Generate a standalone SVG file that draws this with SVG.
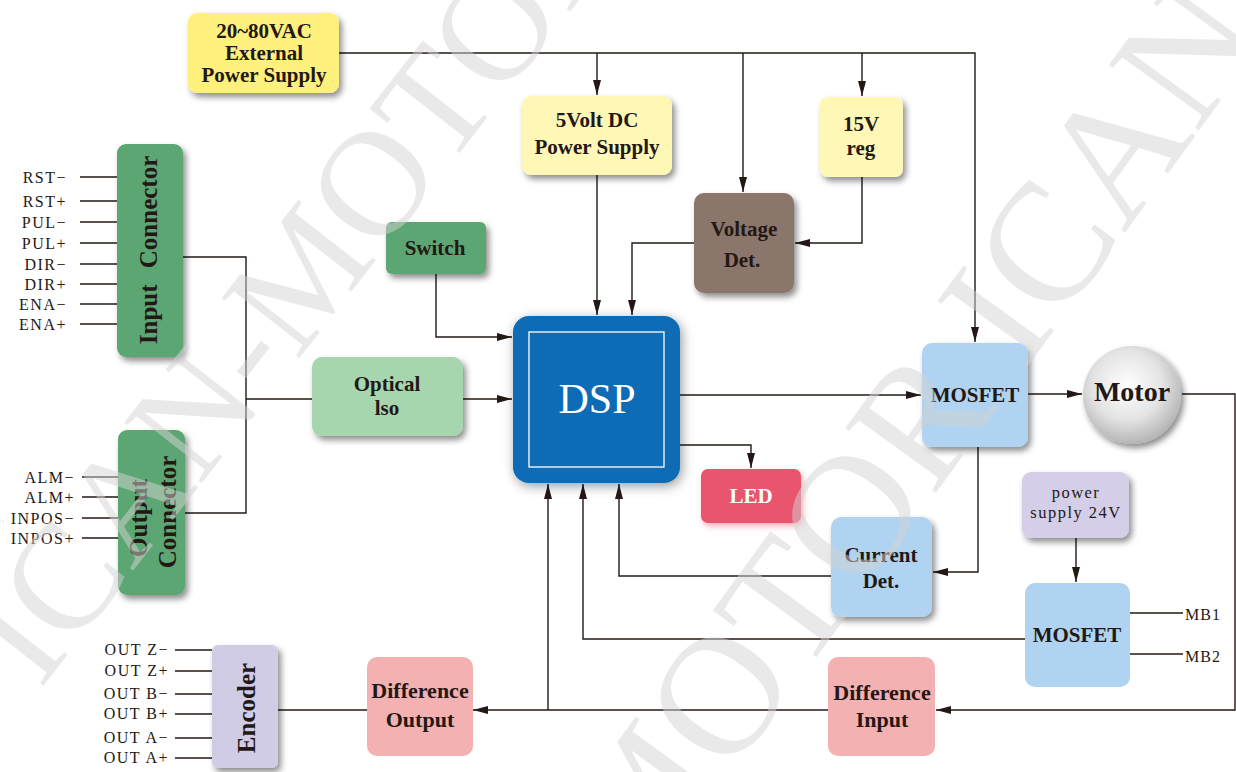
<svg xmlns="http://www.w3.org/2000/svg" width="1236" height="772" viewBox="0 0 1236 772">
<defs>
<filter id="sh" x="-30%" y="-30%" width="160%" height="160%">
<feGaussianBlur in="SourceAlpha" stdDeviation="3"/>
<feOffset dx="3" dy="4" result="b"/>
<feFlood flood-color="#000" flood-opacity="0.45"/>
<feComposite in2="b" operator="in"/>
<feMerge><feMergeNode/><feMergeNode in="SourceGraphic"/></feMerge>
</filter>
<filter id="glow" x="-30%" y="-30%" width="160%" height="160%">
<feGaussianBlur in="SourceAlpha" stdDeviation="6"/>
<feOffset dx="2" dy="3" result="b"/>
<feFlood flood-color="#000" flood-opacity="0.4"/>
<feComposite in2="b" operator="in"/>
<feMerge><feMergeNode/><feMergeNode in="SourceGraphic"/></feMerge>
</filter>
<filter id="pglow" x="-30%" y="-30%" width="160%" height="160%">
<feGaussianBlur in="SourceAlpha" stdDeviation="3"/>
<feOffset dx="2" dy="3" result="b"/>
<feFlood flood-color="#e8546c" flood-opacity="0.5"/>
<feComposite in2="b" operator="in"/>
<feMerge><feMergeNode/><feMergeNode in="SourceGraphic"/></feMerge>
</filter>
<radialGradient id="motorg" cx="0.45" cy="0.4" r="0.6">
<stop offset="0" stop-color="#ffffff"/>
<stop offset="0.6" stop-color="#e3e3e3"/>
<stop offset="1" stop-color="#b5b5b5"/>
</radialGradient>
<marker id="ah" markerUnits="userSpaceOnUse" markerWidth="16" markerHeight="10" refX="15" refY="4" orient="auto">
<path d="M0,0 L15,4 L0,8 Z" fill="#231815"/>
</marker>
</defs>
<style>
.t{font-family:"Liberation Serif",serif;font-weight:bold;font-size:21px;fill:#231815;text-anchor:middle}
.p{font-family:"Liberation Serif",serif;font-size:16px;fill:#231815;letter-spacing:1.5px;text-anchor:end}
.r{font-family:"Liberation Serif",serif;font-size:16.5px;fill:#231815;letter-spacing:1.5px;text-anchor:middle}
.ln{fill:none;stroke:#231815;stroke-width:1.4}
.ar{fill:none;stroke:#231815;stroke-width:1.4;marker-end:url(#ah)}
.wm{font-family:"Liberation Serif",serif;fill:#d4d4d4;opacity:0.5}
</style>
<rect width="1236" height="772" fill="#ffffff"/>

<g id="connectors">
<path class="ar" d="M339,53 H975 V342"/>
<path class="ar" d="M597,53 V95"/>
<path class="ar" d="M743,53 V192"/>
<path class="ar" d="M862,53 V96"/>
<path class="ar" d="M862,177 V243 H795"/>
<path class="ar" d="M694,243 H632 V315"/>
<path class="ar" d="M597,175 V315"/>
<path class="ar" d="M436,274 V337 H512"/>
<path class="ln" d="M183,257 H246 V513 H185"/>
<path class="ln" d="M246,399 H312"/>
<path class="ar" d="M463,399 H512"/>
<path class="ar" d="M680,395 H921"/>
<path class="ar" d="M680,445 H751 V468"/>
<path class="ar" d="M1028,394 H1082"/>
<path class="ar" d="M1182,394 H1235 V710 H936"/>
<path class="ar" d="M978,447 V572 H933"/>
<path class="ar" d="M831,576 H619 V484"/>
<path class="ar" d="M1025,639 H583 V484"/>
<path class="ar" d="M828,710 H473"/>
<path class="ar" d="M548,710 V484"/>
<path class="ln" d="M278,710 H367"/>
<path class="ar" d="M1076,538 V582"/>
<path class="ln" d="M1130,613 H1183 M1130,654 H1183"/>
<path class="ln" d="M80,177 H117 M80,201 H117 M80,222 H117 M80,243 H117 M80,264 H117 M80,284 H117 M80,304 H117 M80,324 H117"/>
<path class="ln" d="M82,477 H118 M82,497 H118 M82,518 H118 M82,538 H118"/>
<path class="ln" d="M175,650 H212 M175,671 H212 M175,694 H212 M175,714 H212 M175,738 H212 M175,758 H212"/>
</g>

<g id="ext-power">
<rect x="188" y="13" width="151" height="80" rx="9" fill="#fdf07c" filter="url(#sh)"/>
<text class="t" x="264" y="38">20~80VAC</text>
<text class="t" x="264" y="60">External</text>
<text class="t" x="264" y="82">Power Supply</text>
</g>
<g id="psu-5v">
<rect x="522" y="96" width="150" height="79" rx="9" fill="#fff7b5" filter="url(#sh)"/>
<text class="t" x="597" y="127">5Volt DC</text>
<text class="t" x="597" y="154">Power Supply</text>
</g>
<g id="reg-15v">
<rect x="820" y="97" width="83" height="80" rx="8" fill="#fff7b5" filter="url(#sh)"/>
<text class="t" x="861" y="131">15V</text>
<text class="t" x="861" y="155">reg</text>
</g>
<g id="voltage-det">
<rect x="694" y="193" width="100" height="100" rx="10" fill="#8a766a" filter="url(#sh)"/>
<text class="t" x="744" y="236">Voltage</text>
<text class="t" x="742" y="267">Det.</text>
</g>
<g id="switch">
<rect x="386" y="222" width="100" height="52" rx="6" fill="#5ba673" filter="url(#sh)"/>
<text class="t" x="435" y="255">Switch</text>
</g>
<g id="optical">
<rect x="312" y="357" width="151" height="79" rx="10" fill="#a6d5ae" filter="url(#sh)"/>
<text class="t" x="387" y="391">Optical</text>
<text class="t" x="387" y="415">lso</text>
</g>
<g id="input-connector">
<rect x="117" y="144" width="66" height="213" rx="9" fill="#5ba673" filter="url(#sh)"/>
<text class="t" transform="translate(157,250) rotate(-90)" style="font-size:25px;word-spacing:10px">Input Connector</text>
<text class="p" x="67" y="182.5">RST−</text>
<text class="p" x="67" y="206.5">RST+</text>
<text class="p" x="67" y="227.5">PUL−</text>
<text class="p" x="67" y="248.5">PUL+</text>
<text class="p" x="67" y="269.5">DIR−</text>
<text class="p" x="67" y="289.5">DIR+</text>
<text class="p" x="67" y="309.5">ENA−</text>
<text class="p" x="67" y="329.5">ENA+</text>
</g>
<g id="output-connector">
<rect x="118" y="430" width="67" height="165" rx="9" fill="#5ba673" filter="url(#sh)"/>
<text class="t" transform="translate(147,518) rotate(-90)" style="font-size:25px">Output</text>
<text class="t" transform="translate(176,512) rotate(-90)" style="font-size:25px">Connector</text>
<text class="p" x="75" y="482.5">ALM−</text>
<text class="p" x="75" y="502.5">ALM+</text>
<text class="p" x="75" y="523.5">INPOS−</text>
<text class="p" x="75" y="543.5">INPOS+</text>
</g>
<g id="dsp">
<rect x="513" y="316" width="167" height="167" rx="16" fill="#0b6cb5" filter="url(#glow)"/>
<rect x="529" y="332" width="135" height="135" fill="none" stroke="#ffffff" stroke-width="1.3"/>
<text x="597" y="413" font-family="Liberation Serif, serif" font-size="42" fill="#ffffff" text-anchor="middle">DSP</text>
</g>
<g id="led">
<rect x="701" y="469" width="100" height="54" rx="7" fill="#e8546c" filter="url(#pglow)"/>
<text class="t" x="751" y="503" style="fill:#ffffff">LED</text>
</g>
<g id="mosfet-1">
<rect x="922" y="343" width="106" height="104" rx="10" fill="#afd3f0" filter="url(#sh)"/>
<text class="t" x="975" y="402">MOSFET</text>
</g>
<g id="motor">
<circle cx="1132" cy="395" r="49" fill="url(#motorg)" filter="url(#sh)"/>
<text class="t" x="1132" y="401" style="font-size:28px">Motor</text>
</g>
<g id="current-det">
<rect x="831" y="517" width="101" height="100" rx="10" fill="#afd3f0" filter="url(#sh)"/>
<text class="t" x="881" y="562">Current</text>
<text class="t" x="881" y="588">Det.</text>
</g>
<g id="psu-24v">
<rect x="1022" y="472" width="107" height="66" rx="9" fill="#d4cee8" filter="url(#sh)"/>
<text class="r" x="1076" y="498">power</text>
<text class="r" x="1076" y="518">supply 24V</text>
</g>
<g id="mosfet-2">
<rect x="1025" y="583" width="105" height="104" rx="10" fill="#afd3f0"/>
<text class="t" x="1077" y="642">MOSFET</text>
<text class="p" x="1185" y="620" style="text-anchor:start;letter-spacing:1px">MB1</text>
<text class="p" x="1185" y="662" style="text-anchor:start;letter-spacing:1px">MB2</text>
</g>
<g id="diff-input">
<rect x="828" y="657" width="107" height="99" rx="10" fill="#f3b1b2"/>
<text class="t" x="882" y="700" style="font-size:22px">Difference</text>
<text class="t" x="882" y="727" style="font-size:22px">Input</text>
</g>
<g id="diff-output">
<rect x="367" y="657" width="106" height="99" rx="10" fill="#f3b1b2"/>
<text class="t" x="420" y="698" style="font-size:22px">Difference</text>
<text class="t" x="420" y="727" style="font-size:22px">Output</text>
</g>
<g id="encoder">
<rect x="212" y="645" width="66" height="123" rx="6" fill="#d0cce6" filter="url(#sh)"/>
<text class="t" transform="translate(255,708) rotate(-90)" style="font-size:25px">Encoder</text>
<text class="p" x="169" y="655">OUT Z−</text>
<text class="p" x="169" y="676">OUT Z+</text>
<text class="p" x="169" y="699">OUT B−</text>
<text class="p" x="169" y="719">OUT B+</text>
<text class="p" x="169" y="743">OUT A−</text>
<text class="p" x="169" y="763">OUT A+</text>
</g>

<g id="watermark">
<text class="wm" transform="translate(40,690) rotate(-52)" style="font-size:150px">ICAN-MOTOR</text>
<text class="wm" transform="translate(640,900) rotate(-54)" style="font-size:170px">MOTOR ICAN</text>
</g>
</svg>
